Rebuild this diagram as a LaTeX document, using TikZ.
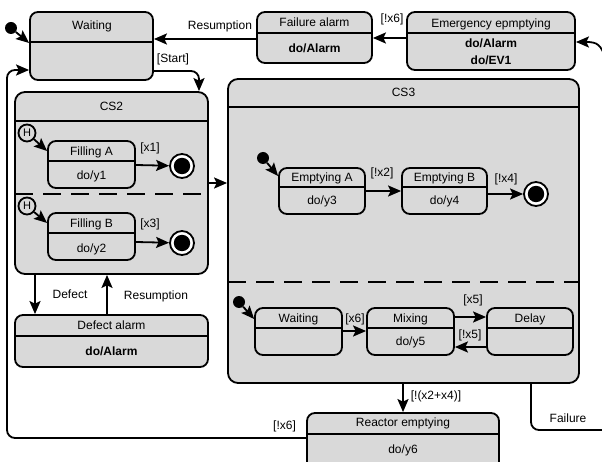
\documentclass[tikz,border=0pt]{standalone}
\usepackage{fontspec}
\setmainfont{Liberation Sans}
\usetikzlibrary{arrows.meta,fit}
\definecolor{sfill}{HTML}{D9D9D9}
\begin{document}
\begin{tikzpicture}[x=1pt,y=-1pt,
  every node/.style={font=\fontsize{12}{14}\selectfont},
  sbox/.style={draw, line width=1.8pt, fill=sfill, rounded corners=8pt, inner sep=0pt, fit={#1}},
  cbox/.style={draw, line width=1.8pt, fill=sfill, rounded corners=10pt, inner sep=0pt, fit={#1}},
  div/.style={line width=1.8pt},
  dsh/.style={line width=1.8pt, dash pattern=on 18pt off 10pt},
  lbl/.style={inner sep=0pt, text height=8.6pt, text depth=0pt},
  bl/.style={lbl, font=\fontsize{12}{14}\selectfont\bfseries},
  arr/.style={line width=1.8pt, -{Stealth[length=13pt,width=11pt,inset=2.5pt]}},
  ln/.style={line width=1.8pt},
  initd/.style={circle, fill=black, inner sep=0pt, minimum size=12pt},
  hist/.style={circle, draw, line width=1.8pt, fill=sfill, inner sep=0pt, minimum size=17pt, font=\fontsize{11}{12}\selectfont},
  fin/.style={circle, draw, line width=1.8pt, fill=white, inner sep=0pt, minimum size=24pt},
  fincore/.style={fill=black},
]
\path[use as bounding box, clip] (0,0) rectangle (602,462);

% ---------------- top row ----------------
\node[sbox={(30,12) (153,80)}] (wait) {};
\draw[div] (30,42) -- (153,42);
\node[lbl] (wait-t) at (92,25) {Waiting};
\node[initd] (i0) at (11,28) {};

\node[sbox={(257,12) (372,63)}] (falarm) {};
\draw[div] (257,33) -- (372,33);
\node[lbl] (falarm-t) at (314.5,22) {Failure alarm};
\node[bl] (falarm-b) at (314.5,48) {do/Alarm};

\node[sbox={(407,12) (575,70)}] (emerg) {};
\draw[div] (407,33) -- (575,33);
\node[lbl] (emerg-t) at (491,23) {Emergency epmptying};
\node[bl] (emerg-b1) at (491,43) {do/Alarm};
\node[bl] (emerg-b2) at (491,60) {do/EV1};

% ---------------- CS2 ----------------
\node[cbox={(15,92) (208,274)}] (cs2) {};
\draw[div] (15,121) -- (208,121);
\node[lbl] (cs2-t) at (111.5,106) {CS2};
\draw[dsh] (15,194) -- (208,194);

\node[hist] (h1) at (27,133) {H};
\node[sbox={(48,141) (135,188)}] (fa) {};
\draw[div] (48,161) -- (135,161);
\node[lbl] (fa-t) at (91.5,151) {Filling A};
\node[lbl] (fa-b) at (91.5,175) {do/y1};
\node[fin] (f1) at (182,166) {};
\fill[fincore] (f1.center) circle (8.2pt);

\node[hist] (h2) at (27,206) {H};
\node[sbox={(48,213) (135,260)}] (fb) {};
\draw[div] (48,233) -- (135,233);
\node[lbl] (fb-t) at (91.5,223) {Filling B};
\node[lbl] (fb-b) at (91.5,248) {do/y2};
\node[fin] (f2) at (182,243) {};
\fill[fincore] (f2.center) circle (8.2pt);

% ---------------- Defect alarm ----------------
\node[sbox={(15,315) (208,367)}] (dalarm) {};
\draw[div] (15,336) -- (208,336);
\node[lbl] (dalarm-t) at (111.5,325) {Defect alarm};
\node[bl] (dalarm-b) at (111.5,351) {do/Alarm};

% ---------------- CS3 ----------------
\node[cbox={(228,79) (579,383)}] (cs3) {};
\draw[div] (228,107) -- (579,107);
\node[lbl] (cs3-t) at (403.5,92) {CS3};
\draw[dsh] (228,282) -- (579,282);

\node[initd] (i1) at (263,158) {};
\node[sbox={(279,168) (365,214)}] (ea) {};
\draw[div] (279,187) -- (365,187);
\node[lbl] (ea-t) at (322,177) {Emptying A};
\node[lbl] (ea-b) at (322,200) {do/y3};

\node[sbox={(402,168) (487,214)}] (eb) {};
\draw[div] (402,187) -- (487,187);
\node[lbl] (eb-t) at (444.5,177) {Emptying B};
\node[lbl] (eb-b) at (444.5,200) {do/y4};
\node[fin] (f3) at (536,194) {};
\fill[fincore] (f3.center) circle (8.2pt);

\node[initd] (i2) at (239,302) {};
\node[sbox={(255,308) (342,355)}] (w2) {};
\draw[div] (255,328) -- (342,328);
\node[lbl] (w2-t) at (298.5,318) {Waiting};

\node[sbox={(367,308) (454,355)}] (mix) {};
\draw[div] (367,328) -- (454,328);
\node[lbl] (mix-t) at (410.5,318) {Mixing};
\node[lbl] (mix-b) at (410.5,341) {do/y5};

\node[sbox={(487,308) (573,355)}] (delay) {};
\draw[div] (487,328) -- (573,328);
\node[lbl] (delay-t) at (530,318) {Delay};

% ---------------- Reactor emptying ----------------
\node[sbox={(307,413) (499,472)}] (reactor) {};
\draw[div] (307,434) -- (499,434);
\node[lbl] (reactor-t) at (403,422) {Reactor emptying};
\node[lbl] (reactor-b) at (403,449) {do/y6};

% ---------------- connectors ----------------
\draw[arr] (i0) -- (wait.west |- 0,43);
\draw[arr] (falarm.west |- 0,39) -- (wait.east |- 0,39);
\node[lbl] (l-res1) at (220,25) {Resumption};
\draw[arr] (emerg.west |- 0,38) -- (falarm.east |- 0,38);
\node[lbl] (l-x6a) at (392,18) {[!x6]};

\draw[arr, rounded corners=8pt] (wait.east |- 0,71) -| (199,0 |- cs2.north);
\node[lbl] (l-start) at (173,58) {[Start]};

\draw[arr] (h1) -- (fa.west |- 0,151);
\draw[arr] (fa.east |- 0,165) -- (f1);
\node[lbl] (l-x1) at (150,147) {[x1]};
\draw[arr] (h2) -- (fb.west |- 0,223);
\draw[arr] (fb.east |- 0,242) -- (f2);
\node[lbl] (l-x3) at (150,223) {[x3]};

\draw[arr] (cs2.east |- 0,183) -- (cs3.west |- 0,183);

\draw[arr] (cs2.south -| 35,0) -- (dalarm.north -| 35,0);
\node[lbl] (l-def) at (70,294) {Defect};
\draw[arr] (dalarm.north -| 107,0) -- (cs2.south -| 107,0);
\node[lbl] (l-res2) at (156,295) {Resumption};

\draw[arr] (i1) -- (ea.west |- 0,176);
\draw[arr] (ea.east |- 0,191) -- (eb.west |- 0,191);
\node[lbl] (l-x2) at (382,172) {[!x2]};
\draw[arr] (eb.east |- 0,194) -- (f3);
\node[lbl] (l-x4) at (506,178) {[!x4]};

\draw[arr] (i2) -- (w2.west |- 0,319);
\draw[arr] (w2.east |- 0,331) -- (mix.west |- 0,331);
\node[lbl] (l-x6b) at (355,318) {[x6]};
\draw[arr] (mix.east |- 0,317) -- (delay.west |- 0,317);
\node[lbl] (l-x5) at (473,299) {[x5]};
\draw[arr] (delay.west |- 0,347) -- (mix.east |- 0,347);
\node[lbl] (l-nx5) at (470,334) {[!x5]};

\draw[arr] (cs3.south -| 403,0) -- (reactor.north -| 403,0);
\node[lbl] (l-x24) at (436,395) {[!(x2+x4)]};

\coordinate (c-bl) at (7,438);
\coordinate (c-tl) at (7,70);
\draw[arr, rounded corners=8pt] (reactor.west |- 0,438) -- (c-bl) -- (c-tl) -- (wait.west |- 0,70);
\node[lbl] (l-x6c) at (284.5,425) {[!x6]};

\coordinate (c-fr) at (615,430);
\draw[ln, rounded corners=8pt] (cs3.south -| 531,0) |- (c-fr);
\node[lbl] (l-fail) at (568,418) {Failure};
\coordinate (c-in) at (606,60);
\draw[arr] (c-in) .. controls (601,44) and (597,42) .. (emerg.east |- 0,42);
\end{tikzpicture}
\end{document}
